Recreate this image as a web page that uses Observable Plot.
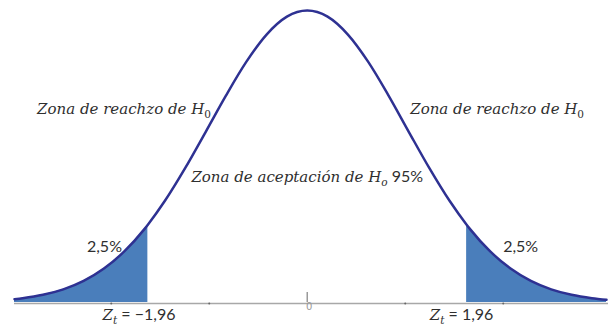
<!DOCTYPE html>
<html><head><meta charset="utf-8">
<script src="https://cdn.jsdelivr.net/npm/d3@7"></script>
<script src="https://cdn.jsdelivr.net/npm/@observablehq/plot@0.6"></script>
<style>
html,body{margin:0;padding:0;background:#fff;}
#chart svg{display:block;}
</style></head><body><div id="chart"></div>
<script>
// ---- data ----
const zValues = [-3.6,-3.5,-3.25,-3,-2.75,-2.5,-2.25,-2,-1.96,-1.75,-1.5,-1.25,-1,-0.75,-0.5,-0.25,0,
                 0.25,0.5,0.75,1,1.25,1.5,1.75,1.96,2,2.25,2.5,2.75,3,3.25,3.5,3.68];
const density = [0.0038,0.0049,0.0087,0.0149,0.0245,0.0385,0.0579,0.0835,0.0882,0.1153,0.1526,0.1933,0.2346,0.2728,0.3038,0.3241,0.3311,
                 0.3241,0.3038,0.2728,0.2346,0.1933,0.1526,0.1153,0.0882,0.0835,0.0579,0.0385,0.0245,0.0149,0.0087,0.0049,0.0031];
const criticalZ = 1.96;
const minorTicks = [-2.41, -1.205, 1.205, 2.41];
const centerTick = [0];
const centerTickLabel = ["0"];
const tailLabels = ["2,5%", "2,5%"];
const zoneLabels = ["*Zona de reachzo de H_0*", "*Zona de reachzo de H_0*", "*Zona de aceptación de H_o* 95%"];
const criticalLabels = ["*Z_t* = −1,96", "*Z_t* = 1,96"];

// ---- build ----
const rows = zValues.map((z, i) => ({z, density: density[i]}));
const peak = d3.max(density);

// label anchors (layout)
const zoneAnchor = [[-2.253, 0.2143], [2.335, 0.2143], [0, 0.1361]];
const tailAnchor = [[-2.494, 0.0578], [2.624, 0.0578]];
const critAnchor = [[-2.069, -0.0193], [1.898, -0.0193]];

const textColor = "#2f2f2f";
const chart = Plot.plot({
  width: 608, height: 325,
  marginLeft: 14, marginRight: 2, marginTop: 10, marginBottom: 23,
  x: {domain: [-3.6, 3.68], axis: null},
  y: {domain: [0, peak], axis: null},
  style: {background: "white", overflow: "visible"},
  marks: [
    Plot.ruleY([0], {x1: -3.6, x2: 3.72, stroke: "#a8a8a8", strokeWidth: 1.5, dy: 1}),
    Plot.ruleX(centerTick, {x: d => d, y1: 0, y2: 0.016, stroke: "#9a9a9a", strokeWidth: 1.5, insetBottom: -4}),
    Plot.text(centerTickLabel, {x: 0, y: 0, text: d => d, dx: 2, dy: 4, fontSize: 10, fill: "#999", fontFamily: "DejaVu Sans"}),
    Plot.dot(minorTicks, {x: d => d, y: 0, r: 1, fill: "#666", stroke: null, dy: 1}),
    Plot.areaY(rows, {filter: d => d.z <= -criticalZ, x: "z", y: "density", curve: "monotone-x", fill: "#4a7ebb"}),
    Plot.areaY(rows, {filter: d => d.z >= criticalZ, x: "z", y: "density", curve: "monotone-x", fill: "#4a7ebb"}),
    Plot.line(rows, {x: "z", y: "density", stroke: "#2e3192", strokeWidth: 2.5, curve: "monotone-x"}),
    Plot.text(zoneLabels, {x: (d, i) => zoneAnchor[i][0], y: (d, i) => zoneAnchor[i][1], text: d => d,
      lineAnchor: "bottom", textAnchor: "middle", fontSize: 15, fill: textColor}),
    Plot.text(tailLabels, {x: (d, i) => tailAnchor[i][0], y: (d, i) => tailAnchor[i][1], text: d => d,
      lineAnchor: "bottom", textAnchor: "middle", fontSize: 16, fontFamily: "Lato", fill: textColor}),
    Plot.text(criticalLabels, {x: (d, i) => critAnchor[i][0], y: (d, i) => critAnchor[i][1], text: d => d,
      lineAnchor: "bottom", textAnchor: "middle", fontSize: 15, fill: textColor})
  ]
});

// rich text: *...* italic, _c subscript
function richify(el, markup) {
  const segs = [];
  let italic = false;
  for (let k = 0; k < markup.length; k++) {
    const c = markup[k];
    if (c === "*") { italic = !italic; continue; }
    if (c === "_") { segs.push({t: markup[k + 1], italic, sub: true}); k++; continue; }
    const last = segs[segs.length - 1];
    if (last && !last.sub && last.italic === italic) last.t += c;
    else segs.push({t: c, italic, sub: false});
  }
  while (el.firstChild) el.removeChild(el.firstChild);
  let shifted = false;
  for (const s of segs) {
    const ts = document.createElementNS("http://www.w3.org/2000/svg", "tspan");
    ts.textContent = s.t;
    const upright = !s.italic || (s.sub && /[0-9]/.test(s.t));
    ts.setAttribute("font-family", s.italic ? "DejaVu Serif" : "Lato");
    ts.setAttribute("font-style", upright ? "normal" : "italic");
    if (!s.italic) ts.setAttribute("font-size", "16");
    if (s.sub) { ts.setAttribute("font-size", "10.5"); ts.setAttribute("dy", "4"); shifted = true; }
    else if (shifted) { ts.setAttribute("dy", "-4"); shifted = false; }
    el.appendChild(ts);
  }
  el.setAttribute("style", "white-space:pre");
}
d3.select(chart).selectAll("text").each(function() {
  const s = this.textContent;
  if (s.includes("*")) richify(this, s);
});

document.getElementById("chart").appendChild(chart);
</script>
</body></html>
